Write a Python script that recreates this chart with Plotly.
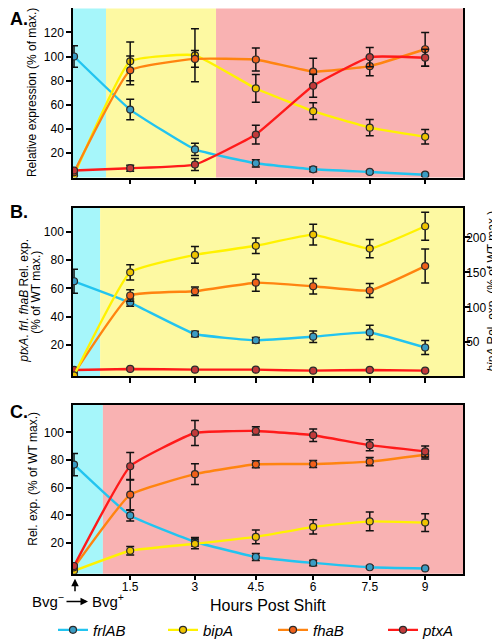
import plotly.graph_objects as go

# ---------------- data ----------------
hours = [0, 1.44, 3.1, 4.66, 6.13, 7.58, 9]
tick_labels = ["1.5", "3", "4.5", "6", "7.5", "9"]
genes = ["frlAB", "bipA", "fhaB", "ptxA"]

# Panel A  (Relative expression, % of max.)
a_frlAB = [100, 56, 23, 11.5, 6.5, 4.3, 2]
a_frlAB_err = [9, 8.5, 5, 3, 2, 1, 1]
a_bipA = [1.5, 96, 101, 73.5, 54.7, 41, 33.4]
a_bipA_err = [0, 16, 22, 11.5, 7, 6.7, 6]
a_fhaB = [4, 88.5, 98, 97.5, 87.5, 92, 106]
a_fhaB_err = [0, 12, 7, 9.5, 11, 8, 14]
a_ptxA = [5.5, 7.4, 10.4, 35.3, 75.7, 99.5, 99]
a_ptxA_err = [0, 2.5, 5, 7.8, 9.5, 8, 7]

# Panel B  (ptxA, frl, fhaB: % of WT max. ; bipA on right axis)
b_frlAB = [65, 50, 27.9, 23.5, 26, 29, 18.4]
b_frlAB_err = [8.5, 2.5, 2, 2, 4, 5, 5]
b_bipA = [2.5, 150, 175, 188, 204, 184, 216]
b_bipA_err = [0, 11, 12, 11, 15, 13, 20]
b_fhaB = [0, 55, 58, 64, 61.5, 58.5, 75.7]
b_fhaB_err = [0, 4, 3, 6, 5.5, 5, 12]
b_ptxA = [2.6, 3.3, 2.8, 2.8, 2.1, 2.6, 2.1]
b_ptxA_err = [0, 0.6, 0.6, 0.6, 0.6, 0.6, 0.6]

# Panel C  (Rel. exp., % of WT max.)
c_frlAB = [76.7, 40, 21, 10, 5.7, 2.6, 1.7]
c_frlAB_err = [8, 4, 3, 2.5, 2, 0.8, 0.6]
c_bipA = [0, 14.5, 19.5, 24.5, 31.7, 35.7, 34.8]
c_bipA_err = [0, 3, 3.5, 5, 5.2, 6.7, 6.4]
c_fhaB = [2.5, 55, 69.8, 76.9, 77.1, 78.8, 83.8]
c_fhaB_err = [0, 11, 7.5, 2.5, 2.5, 3, 3]
c_ptxA = [3.5, 75.5, 99.5, 101, 97.9, 90.7, 86.2]
c_ptxA_err = [0, 10, 9, 3, 4.5, 4, 4]

# phase shading boundaries (hours)
a_phases = [0.82, 3.64]
b_phases = [0.67]
c_phases = [0.74]

# ---------------- styles ----------------
line_col = {"frlAB": "#22c4f0", "bipA": "#fff200", "fhaB": "#ff8410", "ptxA": "#ff1a1a"}
mark_col = {"frlAB": "#3a9cc4", "bipA": "#f0c400", "fhaB": "#f0601a", "ptxA": "#c23a3a"}
CYAN, YELLOW, PINK = "#a6f6fa", "#fdf9a2", "#f9b2b2"
FONT = "Liberation Sans, Arial, sans-serif"
XR = [-0.026, 9.97]

fig = go.Figure()


def add(gene, y, err, xa, ya, legend=False):
    fig.add_trace(go.Scatter(
        x=hours, y=y, xaxis=xa, yaxis=ya, name=gene, mode="lines+markers",
        line=dict(color=line_col[gene], width=2.4, shape="spline", smoothing=0.35),
        marker=dict(size=7, color=mark_col[gene], line=dict(color="#2a2a2a", width=1.2)),
        error_y=dict(type="data", array=err, color="#111", thickness=1.5, width=4),
        showlegend=legend, legendgroup=gene,
    ))


# Panel A
add("frlAB", a_frlAB, a_frlAB_err, "x", "y", True)
add("bipA", a_bipA, a_bipA_err, "x", "y", True)
add("fhaB", a_fhaB, a_fhaB_err, "x", "y", True)
add("ptxA", a_ptxA, a_ptxA_err, "x", "y", True)
# Panel B
add("frlAB", b_frlAB, b_frlAB_err, "x2", "y2")
add("bipA", b_bipA, b_bipA_err, "x2", "y3")
add("fhaB", b_fhaB, b_fhaB_err, "x2", "y2")
add("ptxA", b_ptxA, b_ptxA_err, "x2", "y2")
# Panel C
add("frlAB", c_frlAB, c_frlAB_err, "x3", "y4")
add("bipA", c_bipA, c_bipA_err, "x3", "y4")
add("fhaB", c_fhaB, c_fhaB_err, "x3", "y4")
add("ptxA", c_ptxA, c_ptxA_err, "x3", "y4")

# shading
def band(xref, yref, x0, x1, color):
    fig.add_shape(type="rect", xref=xref, yref=yref + " domain", x0=x0, x1=x1, y0=0, y1=1,
                  fillcolor=color, line=dict(width=0), layer="below")

band("x", "y", XR[0], a_phases[0], CYAN)
band("x", "y", a_phases[0], a_phases[1], YELLOW)
band("x", "y", a_phases[1], XR[1], PINK)
band("x2", "y2", XR[0], b_phases[0], CYAN)
band("x2", "y2", b_phases[0], XR[1], YELLOW)
band("x3", "y4", XR[0], c_phases[0], CYAN)
band("x3", "y4", c_phases[0], XR[1], PINK)

tickfont = dict(family=FONT, size=12, color="black")
ax_common = dict(showgrid=False, zeroline=False, showline=True, linecolor="black", linewidth=1.5,
                 ticks="outside", ticklen=5, tickwidth=1.5, tickcolor="black", tickfont=tickfont)
XDOM = [0.13, 0.91]
xcommon = dict(ax_common, domain=XDOM, range=XR, tickvals=hours[1:], ticktext=tick_labels, mirror=True)

H = 639
def dom(top_px, bot_px):
    return [1 - bot_px / H, 1 - top_px / H]

fig.update_layout(
    width=500, height=639, margin=dict(l=0, r=0, t=0, b=0),
    paper_bgcolor="white", plot_bgcolor="white",
    font=dict(family=FONT, color="black"),
    xaxis=dict(xcommon, anchor="y", showticklabels=False),
    xaxis2=dict(xcommon, anchor="y2", showticklabels=False),
    xaxis3=dict(xcommon, anchor="y4", showticklabels=True, ticklabelstandoff=-4),
    yaxis=dict(ax_common, domain=dom(0.5, 171.5), range=[-0.4, 139.8], anchor="x",
               tickvals=[20, 40, 60, 80, 100, 120], mirror=True),
    yaxis2=dict(ax_common, domain=dom(202, 372), range=[-1.6, 116.7], anchor="x2",
                tickvals=[20, 40, 60, 80, 100], mirror=False),
    yaxis3=dict(ax_common, domain=dom(202, 372), range=[1.8, 242.4], anchor="x2",
                overlaying="y2", side="right", tickvals=[50, 100, 150, 200], ticklabelstandoff=-6),
    yaxis4=dict(ax_common, domain=dom(401, 572), range=[-2.1, 120], anchor="x3",
                tickvals=[20, 40, 60, 80, 100], mirror=True),
    legend=dict(orientation="h", x=0.09, xanchor="left", y=1 - 629 / H, yanchor="middle",
                font=dict(family=FONT, size=15, style="italic"), entrywidth=65,
                bgcolor="rgba(0,0,0,0)", itemwidth=30),
)

def ann(text, x_px, y_px, size=12, angle=0, bold=False, xanchor="center"):
    fig.add_annotation(text=text, x=x_px / 500, y=1 - y_px / H, xref="paper", yref="paper",
                       showarrow=False, textangle=angle, xanchor=xanchor, yanchor="middle",
                       font=dict(family=FONT, size=size, color="black",
                                 weight="bold" if bold else "normal"))

# panel letters
ann("A.", 0, 11, size=18, bold=True, xanchor="left")
ann("B.", 0, 206, size=18, bold=True, xanchor="left")
ann("C.", 0, 408, size=18, bold=True, xanchor="left")

# axis titles (rotated text is drawn ~6px right of its nominal centre)
ann("Relative expression (% of max.)", 24, 86, size=12, angle=-90)
ann("<i>ptxA</i>. <i>frl</i>. <i>fhaB</i> Rel. exp.", 16, 296, size=12, angle=-90)
ann("(% of WT max.)", 28, 288, size=12, angle=-90)
ann("<i>bipA</i> Rel. exp. (% of WT max.)", 484, 287, size=12, angle=-90)
ann("Rel. exp. (% of WT max.)", 25, 476, size=12, angle=-90)
ann("Hours Post Shift", 260, 604, size=16)

# Bvg shift annotation
ann("Bvg<sup>−</sup>", 22, 599, size=15, xanchor="left")
ann("Bvg<sup>+</sup>", 82, 599, size=15, xanchor="left")
fig.add_annotation(x=80 / 500, y=1 - 600 / H, ax=-23, ay=0, xref="paper", yref="paper",
                   text="", showarrow=True, arrowhead=2, arrowsize=1, arrowwidth=1.5, arrowcolor="black")
fig.add_annotation(x=67 / 500, y=1 - 577 / H, ax=0, ay=14, xref="paper", yref="paper",
                   text="", showarrow=True, arrowhead=2, arrowsize=1, arrowwidth=1.5, arrowcolor="black")

fig.write_html("out.html")
